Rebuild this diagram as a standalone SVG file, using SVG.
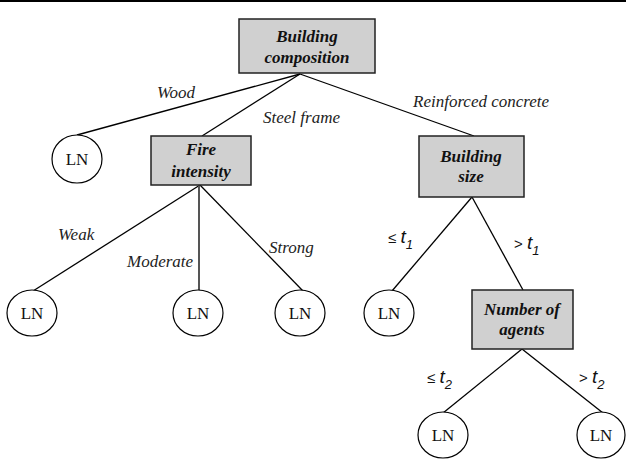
<svg xmlns="http://www.w3.org/2000/svg" width="626" height="461" viewBox="0 0 626 461">
<style>
.box{fill:#d0d0d0;stroke:#222;stroke-width:1.5}
.leaf{fill:#fff;stroke:#000;stroke-width:1.2}
.bt{font-family:"Liberation Serif",serif;font-weight:bold;font-style:italic;font-size:17px;text-anchor:middle;fill:#111}
.lt{font-family:"Liberation Serif",serif;font-size:17px;text-anchor:middle;fill:#111}
.el{font-family:"Liberation Serif",serif;font-style:italic;font-size:17px;fill:#222}
.th{font-family:"Liberation Sans",sans-serif;font-style:italic;font-size:19px;fill:#111}
.sub{font-family:"Liberation Sans",sans-serif;font-style:italic;font-size:13px;fill:#111}
.le{font-family:"Liberation Sans",sans-serif;font-size:15px;fill:#111}
.c{stroke:#000;stroke-width:1.3;fill:none}
</style>
<rect x="0" y="0" width="626" height="461" fill="#fff"/>
<line x1="0" y1="1" x2="626" y2="1" stroke="#000" stroke-width="2"/>
<g id="connectors">
<line class="c" x1="300" y1="74" x2="77" y2="135"/>
<line class="c" x1="300" y1="74" x2="202" y2="136"/>
<line class="c" x1="300" y1="74" x2="474" y2="136"/>
<line class="c" x1="200" y1="185" x2="33" y2="291"/>
<line x1="199" y1="185" x2="199" y2="291" stroke="#555" stroke-width="2"/>
<line class="c" x1="200" y1="185" x2="303" y2="291"/>
<line class="c" x1="472" y1="197" x2="392" y2="291"/>
<line class="c" x1="472" y1="197" x2="523" y2="290"/>
<line class="c" x1="522" y1="349" x2="443" y2="413"/>
<line class="c" x1="522" y1="349" x2="603" y2="413"/>
</g>
<g id="edge-labels">
<text class="el" x="157" y="98">Wood</text>
<text class="el" x="263" y="123">Steel frame</text>
<text class="el" x="413" y="107">Reinforced concrete</text>
<text class="el" x="58" y="240">Weak</text>
<text class="el" x="127" y="267">Moderate</text>
<text class="el" x="269" y="253">Strong</text>
<text x="388" y="243"><tspan class="le">≤ </tspan><tspan class="th">t</tspan><tspan class="sub" dy="6">1</tspan></text>
<text x="514" y="249"><tspan class="le">&gt; </tspan><tspan class="th">t</tspan><tspan class="sub" dy="6">1</tspan></text>
<text x="427" y="383"><tspan class="le">≤ </tspan><tspan class="th">t</tspan><tspan class="sub" dy="6">2</tspan></text>
<text x="579" y="383"><tspan class="le">&gt; </tspan><tspan class="th">t</tspan><tspan class="sub" dy="6">2</tspan></text>
</g>
<g id="building-composition">
<rect class="box" x="239" y="19" width="136" height="54"/>
<text class="bt" x="307" y="42">Building</text>
<text class="bt" x="307" y="63">composition</text>
</g>
<g id="fire-intensity">
<rect class="box" x="151" y="136" width="100" height="49"/>
<text class="bt" x="201" y="155">Fire</text>
<text class="bt" x="201" y="177">intensity</text>
</g>
<g id="building-size">
<rect class="box" x="419" y="136" width="105" height="61"/>
<text class="bt" x="471" y="162">Building</text>
<text class="bt" x="471" y="182">size</text>
</g>
<g id="number-of-agents">
<rect class="box" x="472" y="290" width="101" height="59"/>
<text class="bt" x="522" y="315">Number of</text>
<text class="bt" x="522" y="335">agents</text>
</g>
<g id="ln-wood">
<ellipse class="leaf" cx="77" cy="159" rx="25" ry="24"/>
<text class="lt" x="77" y="165">LN</text>
</g>
<g id="ln-weak">
<ellipse class="leaf" cx="32" cy="313" rx="25" ry="23"/>
<text class="lt" x="32" y="319">LN</text>
</g>
<g id="ln-moderate">
<ellipse class="leaf" cx="198" cy="313" rx="25" ry="23"/>
<text class="lt" x="198" y="319">LN</text>
</g>
<g id="ln-strong">
<ellipse class="leaf" cx="300" cy="313" rx="25" ry="23"/>
<text class="lt" x="300" y="319">LN</text>
</g>
<g id="ln-t1">
<ellipse class="leaf" cx="389" cy="313" rx="25" ry="23"/>
<text class="lt" x="389" y="319">LN</text>
</g>
<g id="ln-t2-low">
<ellipse class="leaf" cx="443" cy="435" rx="25" ry="23"/>
<text class="lt" x="443" y="441">LN</text>
</g>
<g id="ln-t2-high">
<ellipse class="leaf" cx="601" cy="435" rx="24" ry="23"/>
<text class="lt" x="601" y="441">LN</text>
</g>
</svg>
